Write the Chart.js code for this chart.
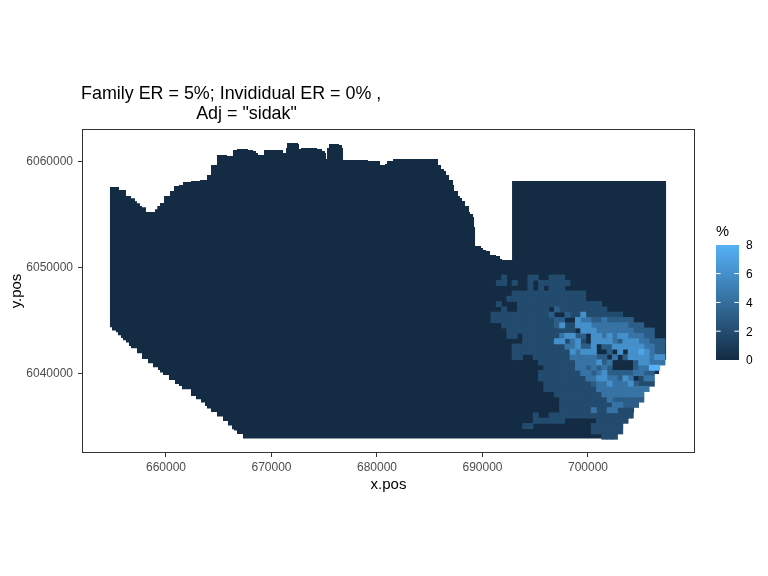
<!DOCTYPE html>
<html>
<head>
<meta charset="utf-8">
<title>Family ER map</title>
<script src="https://cdn.jsdelivr.net/npm/chart.js@4"></script>
<style>
  html, body { margin: 0; padding: 0; background: #fff; }
  canvas { display: block; }
</style>
</head>
<body>
<canvas id="chart" width="768" height="576"></canvas>
<script>
// Labels
const titleLines = ['Family ER = 5%; Invididual ER = 0% ,', 'Adj = "sidak"'];
const xTitle = 'x.pos';
const yTitle = 'y.pos';
const legendTitle = '%';

// Axes
const xTicks = [660000, 670000, 680000, 690000, 700000];
const yTicks = [6040000, 6050000, 6060000];
const legendTicks = [0, 2, 4, 6, 8];

// Study area outline (x.pos, y.pos), stepped, clockwise from the top left corner
const outlineX = [
  654596, 655544, 656208, 656682, 657061, 657251, 657535, 657725, 658104, 658957, 659175, 659431,
  659810, 660379, 660758, 661232, 661612, 662370, 663223, 663887, 664266, 664835, 665783, 666352,
  666731, 667774, 668248, 668532, 668722, 669290, 671092, 671376, 671471, 672514, 672608, 672798,
  674315, 674789, 675073, 675168, 675263, 675452, 676400, 676685, 676780, 679150, 680287, 680761,
  680951, 681520, 685786, 686070, 686354, 686544, 686828, 687208, 687302, 687682, 687871, 688061,
  688345, 688724, 688819, 689104, 689198, 689293, 689862, 690052, 690336, 690715, 691284, 691663,
  691853, 692801, 692801, 707400,
  707400, 707305, 706831, 706736, 706262, 706168, 705694, 705314, 705125, 704746, 704366, 704177,
  703798, 703324, 703229, 702755,
  667300, 667300, 666731, 666446, 666257, 665878, 665404, 664835, 664266, 663887, 663697, 663318,
  662844, 662370, 661517, 661232, 660853, 660284, 659716, 659431, 659242, 658768, 658294, 657725,
  657251, 656682, 656492, 656208, 655924, 655734, 655450, 655260, 654881, 654691
];
const outlineY = [
  6057642, 6057360, 6056794, 6056577, 6056294, 6056105, 6055851, 6055728, 6055285, 6055540, 6055851, 6056134,
  6056794, 6057265, 6057737, 6057831, 6058114, 6058208, 6058303, 6058774, 6059717, 6060660, 6060566, 6061132,
  6061226, 6061132, 6061037, 6060849, 6060660, 6061132, 6060849, 6061320, 6061792, 6061697, 6061226, 6061320,
  6061226, 6061037, 6060849, 6060283, 6061320, 6061697, 6061603, 6061320, 6060189, 6060094, 6059717, 6059811,
  6060094, 6060283, 6059717, 6059340, 6059151, 6058774, 6058303, 6057831, 6057265, 6056794, 6056605, 6056322,
  6055851, 6055285, 6055096, 6054813, 6053870, 6052079, 6051890, 6051702, 6051607, 6051230, 6051136, 6050853,
  6050759, 6050287, 6058208, 6058208,
  6041329, 6040885, 6040386, 6040008, 6039377, 6038943, 6038500, 6037868, 6037396, 6036925, 6036359, 6035831,
  6035416, 6034850, 6034416, 6033907,
  6033907, 6034350, 6034662, 6034794, 6035133, 6035576, 6035982, 6036425, 6036736, 6036991, 6037302, 6037623,
  6037934, 6038566, 6038877, 6039065, 6039443, 6039914, 6040131, 6040386, 6040640, 6041017, 6041423, 6041960,
  6042432, 6042649, 6042960, 6043186, 6043403, 6043658, 6043941, 6044092, 6044412, 6057642
];

// Raster cells
const cellSize = 500;
const firstCellX = 691050;
const firstCellY = 6049340;
const levelPct = [0, 1.9, 3, 4.3, 6, 7.2, 8];
const cellRows = [
  '..1....11..111',
  '.11.1..1.111111',
  '.......1.1.111',
  '....11111111111111',
  '...111111111111111',
  '.1...1111111111111111',
  '..1..111111.2111111111',
  '111111111112..2114' + '1111111',
  '111111111111' + '22..433223' + '22222',
  '..1111111111' + '24114443333333222',
  '...1111111111111.44433333332222',
  '...11.11111113442' + '2.44343443' + '3322',
  '......11111144134' + '1.44443' + '244433222',
  '....111111111133' + '422' + '4.22444444' + '3322',
  '....111111111114' + '3444..2.4.44543' + '22',
  '....11..1111111' + '3333322.3.24444344',
  '.........1111111' + '33334' + '23....2443' + '33',
  '..........111111' + '33232' + '32....23366',
  '.........11111111' + '33234' + '2222233' + '22',
  '.........111111111' + '3344' + '3324' + '3.133',
  '..........111111111' + '23343' + '3342111',
  '..........1111111111' + '3333333333',
  '............111111111' + '33333333',
  '.............111111111' + '3222222',
  '.............1111111111' + '33222',
  '.............111111' + '3113311' + '1',
  '........1..1111111111111111',
  '........111111......111111',
  '......11...........111111',
  '...................111111',
  '.....................111'
];

const lowColor = [19, 43, 67];
const highColor = [86, 177, 247];
const pctColor = (pct) => {
  const t = pct / 8;
  const rgb = lowColor.map((c, i) => Math.round(c + (highColor[i] - c) * t));
  return `rgb(${rgb.join(',')})`;
};

// one bar dataset per colour level, brighter levels on top
const cellDatasets = levelPct.slice(1).map((pct, i) => {
  const data = [];
  cellRows.forEach((row, r) => {
    [...row].forEach((ch, k) => {
      if (Number(ch) === i + 1) {
        const x = firstCellX + k * cellSize;
        const y = firstCellY - r * cellSize;
        data.push({ x: x, y: [y - cellSize, y] });
      }
    });
  });
  return {
    type: 'bar',
    data: data,
    backgroundColor: pctColor(pct),
    borderWidth: 0,
    barPercentage: 1,
    categoryPercentage: 1,
    grouped: false,
    inflateAmount: 0.35,
    order: 10 - i
  };
});

const outlineDataset = {
  type: 'line',
  data: outlineX.map((x, i) => ({ x: x, y: outlineY[i] })),
  backgroundColor: pctColor(0),
  borderWidth: 0,
  pointRadius: 0,
  stepped: true,
  fill: 'shape',
  order: 20
};

// panel border, title and colour bar
const decorations = {
  id: 'decorations',
  afterDraw(chart) {
    const { ctx, chartArea } = chart;
    ctx.save();
    ctx.strokeStyle = '#333333';
    ctx.lineWidth = 1;
    ctx.strokeRect(chartArea.left + 0.5, chartArea.top + 0.5, chartArea.width - 1, chartArea.height - 1);

    ctx.fillStyle = '#000';
    ctx.textBaseline = 'middle';
    ctx.font = '17.9px "Liberation Sans"';
    ctx.textAlign = 'left';
    ctx.fillText(titleLines[0], 81, 94);
    ctx.textAlign = 'center';
    ctx.fillText(titleLines[1], 246.5, 114);

    ctx.textAlign = 'left';
    ctx.font = '14.67px "Liberation Sans"';
    ctx.fillText(legendTitle, 716, 232);

    const grad = ctx.createLinearGradient(0, 360, 0, 245);
    grad.addColorStop(0, pctColor(0));
    grad.addColorStop(1, pctColor(8));
    ctx.fillStyle = grad;
    ctx.fillRect(716, 245, 23, 115);

    ctx.font = '12px "Liberation Sans"';
    legendTicks.forEach((v) => {
      const y = 360 - v * 14.4;
      ctx.fillStyle = '#000';
      ctx.fillText(String(v), 746, y + 1);
      if (v > 0 && v < 8) {
        ctx.fillStyle = '#fff';
        ctx.fillRect(716, y - 0.5, 4.6, 1);
        ctx.fillRect(734.4, y - 0.5, 4.6, 1);
      }
    });
    ctx.restore();
  }
};

const axisFont = { family: '"Liberation Sans"', size: 15, lineHeight: 1 };
const tickFont = { family: '"Liberation Sans"', size: 12 };

new Chart(document.getElementById('chart'), {
  data: { datasets: [outlineDataset, ...cellDatasets] },
  options: {
    responsive: false,
    animation: false,
    layout: { padding: { top: 129, right: 73, bottom: 0, left: 0 } },
    plugins: { legend: { display: false }, tooltip: { enabled: false } },
    scales: {
      x: {
        type: 'linear',
        offset: false,
        min: 652040,
        max: 710142,
        grid: { offset: false, drawOnChartArea: false, tickLength: 4, tickColor: '#333333', tickWidth: 1 },
        border: { display: false },
        ticks: { font: tickFont, color: '#4D4D4D', padding: 3, maxRotation: 0, callback: (v) => String(v) },
        title: { display: true, text: xTitle, font: axisFont, color: '#000', padding: { top: 0, bottom: 84 } },
        afterBuildTicks: (scale) => { scale.ticks = xTicks.map((v) => ({ value: v })); },
        afterFit: (scale) => { scale.height = 123; }
      },
      y: {
        type: 'linear',
        min: 6032547,
        max: 6063113,
        grid: { drawOnChartArea: false, tickLength: 4, tickColor: '#333333', tickWidth: 1 },
        border: { display: false },
        ticks: { font: tickFont, color: '#4D4D4D', padding: 5, callback: (v) => String(v) },
        title: { display: true, text: yTitle, font: axisFont, color: '#000', padding: { top: 9, bottom: 0 } },
        afterBuildTicks: (scale) => { scale.ticks = yTicks.map((v) => ({ value: v })); },
        afterFit: (scale) => { scale.width = 82; }
      }
    }
  },
  plugins: [decorations]
});
</script>
</body>
</html>
